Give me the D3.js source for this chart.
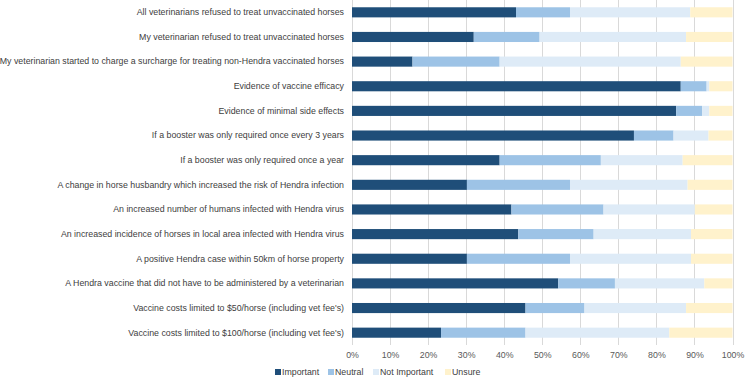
<!DOCTYPE html>
<html>
<head>
<meta charset="utf-8">
<script src="https://cdn.jsdelivr.net/npm/d3@7"></script>
<style>
  body { margin: 0; background: #fff; }
  text { font-family: "Liberation Sans", Arial, sans-serif; }
</style>
</head>
<body>
<div id="chartDiv"></div>
<script>
var categories = [
    "All veterinarians refused to treat unvaccinated horses",
    "My veterinarian refused to treat unvaccinated horses",
    "My veterinarian started to charge a surcharge for treating non-Hendra vaccinated horses",
    "Evidence of vaccine efficacy",
    "Evidence of minimal side effects",
    "If a booster was only required once every 3 years",
    "If a booster was only required once a year",
    "A change in horse husbandry which increased the risk of Hendra infection",
    "An increased number of humans infected with Hendra virus",
    "An increased incidence of horses in local area infected with Hendra virus",
    "A positive Hendra case within 50km of horse property",
    "A Hendra vaccine that did not have to be administered by a veterinarian",
    "Vaccine costs limited to $50/horse (including vet fee's)",
    "Vaccine costs limited to $100/horse (including vet fee's)"
];
var seriesNames = ["Important", "Neutral", "Not Important", "Unsure"];
var important    = [43.1, 32.0, 15.9, 86.4, 85.2, 74.1, 38.8, 30.2, 41.9, 43.7, 30.2, 54.2, 45.6, 23.4];
var neutral      = [14.2, 17.3, 22.9, 6.8, 6.8, 10.4, 26.6, 27.1, 24.2, 19.8, 27.1, 14.9, 15.5, 22.2];
var notImportant = [31.6, 38.5, 47.6, 0.7, 1.9, 9.2, 21.5, 30.9, 24.0, 25.6, 31.8, 23.5, 26.7, 37.8];
var unsure       = [11.1, 12.2, 13.6, 6.1, 6.1, 6.3, 13.1, 11.8, 9.9, 10.9, 10.9, 7.4, 12.2, 16.6];
var xTicks = [0, 10, 20, 30, 40, 50, 60, 70, 80, 90, 100];

var colors = ["#1f4e79", "#9dc3e6", "#deebf7", "#fff2cc"];

var outerWidth = 745, outerHeight = 378;
var margin = {top: 0, right: 12, bottom: 33, left: 352};
var width = outerWidth - margin.left - margin.right,
    height = outerHeight - margin.top - margin.bottom;
var fontSize = "8.8px";

var rows = categories.map(function(c, i) {
    return {cat: c, Important: important[i], Neutral: neutral[i],
            "Not Important": notImportant[i], Unsure: unsure[i]};
});

var svg = d3.select("#chartDiv")
    .append("svg")
    .attr("width", outerWidth)
    .attr("height", outerHeight);

var g = svg.append("g")
    .attr("transform", "translate(" + margin.left + "," + margin.top + ")");

var x = d3.scaleLinear()
    .domain([0, 100])
    .range([0, width - 0.5]);

var y = d3.scaleBand()
    .domain(categories)
    .range([0, height])
    .paddingInner(0.59)
    .paddingOuter(0.295);

// gridlines
g.append("g")
    .selectAll("line")
    .data(xTicks)
    .enter().append("line")
    .attr("x1", function(d) { return Math.round(x(d)) + 0.5; })
    .attr("x2", function(d) { return Math.round(x(d)) + 0.5; })
    .attr("y1", 0)
    .attr("y2", height)
    .style("stroke", "#d9d9d9")
    .style("stroke-width", 1);

var stacked = d3.stack().keys(seriesNames)(rows);

g.selectAll(".series")
    .data(stacked)
    .enter().append("g")
    .attr("class", "series")
    .style("fill", function(d, i) { return colors[i]; })
    .selectAll("rect")
    .data(function(d) { return d; })
    .enter().append("rect")
    .attr("x", function(d) { return x(d[0]); })
    .attr("width", function(d) { return x(d[1]) - x(d[0]); })
    .attr("y", function(d) { return y(d.data.cat); })
    .attr("height", y.bandwidth());

// category labels
var yAxis = d3.axisLeft(y).tickSize(0).tickPadding(8);
var yAxisGroup = g.append("g")
    .attr("class", "y-axis")
    .call(yAxis);
yAxisGroup.select(".domain").remove();
yAxisGroup.selectAll("text")
    .style("font-size", fontSize)
    .style("fill", "#404040");

// x axis labels
var xAxis = d3.axisBottom(x)
    .tickValues(xTicks)
    .tickSize(0)
    .tickPadding(7)
    .tickFormat(function(d) { return d + "%"; });
var xAxisGroup = g.append("g")
    .attr("class", "x-axis")
    .attr("transform", "translate(0," + height + ")")
    .call(xAxis);
xAxisGroup.select(".domain").remove();
xAxisGroup.selectAll("text")
    .style("font-size", fontSize)
    .style("fill", "#595959");

// legend
var legendX = [275, 328, 373, 445];
var legend = svg.append("g")
    .attr("transform", "translate(0,372)");
var items = legend.selectAll(".legendItem")
    .data(seriesNames)
    .enter().append("g")
    .attr("class", "legendItem")
    .attr("transform", function(d, i) { return "translate(" + legendX[i] + ",0)"; });
items.append("rect")
    .attr("x", 0)
    .attr("y", -3)
    .attr("width", 6)
    .attr("height", 6)
    .style("fill", function(d, i) { return colors[i]; });
items.append("text")
    .attr("x", 7)
    .attr("y", 0)
    .attr("dy", "0.35em")
    .style("font-size", fontSize)
    .style("fill", "#404040")
    .text(function(d) { return d; });
</script>
</body>
</html>
